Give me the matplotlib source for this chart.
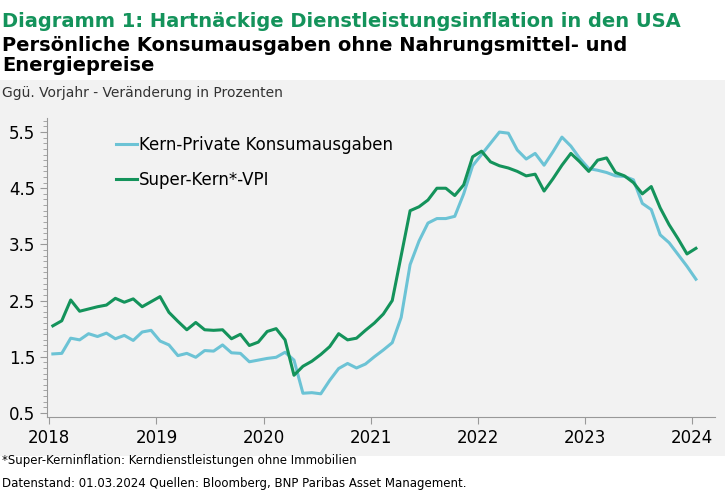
import matplotlib
matplotlib.use("Agg")
import matplotlib.pyplot as plt
import numpy as np
from matplotlib.patches import Rectangle
from matplotlib.ticker import MultipleLocator

pce = [1.55,1.56,1.83,1.80,1.91,1.86,1.92,1.82,1.88,1.79,1.94,1.97,
       1.78,1.71,1.52,1.56,1.49,1.61,1.60,1.71,1.57,1.56,1.41,1.44,
       1.47,1.49,1.58,1.44,0.85,0.86,0.84,1.08,1.29,1.38,1.30,1.37,
       1.50,1.62,1.75,2.20,3.14,3.56,3.88,3.96,3.96,4.00,4.40,4.90,
       5.10,5.30,5.50,5.48,5.18,5.02,5.12,4.91,5.15,5.41,5.25,5.03,
       4.85,4.82,4.78,4.72,4.71,4.65,4.23,4.12,3.67,3.53,3.32,3.11,
       2.88]
supercore = [2.05,2.14,2.51,2.31,2.35,2.39,2.42,2.54,2.47,2.53,2.39,2.48,
             2.57,2.29,2.13,1.98,2.11,1.98,1.97,1.98,1.82,1.90,1.70,1.76,
             1.95,2.00,1.80,1.17,1.33,1.42,1.54,1.68,1.91,1.80,1.83,1.97,
             2.10,2.26,2.50,3.30,4.10,4.17,4.29,4.50,4.50,4.37,4.56,5.06,
             5.16,4.97,4.90,4.86,4.80,4.72,4.75,4.45,4.67,4.91,5.12,4.97,
             4.80,5.00,5.04,4.78,4.72,4.60,4.40,4.53,4.15,3.85,3.60,3.33,
             3.43]
years = [2018, 2019, 2020, 2021, 2022, 2023, 2024]
yticks = [0.5, 1.5, 2.5, 3.5, 4.5, 5.5]

x = 2018 + (np.arange(len(pce)) + 0.4) / 12

fig = plt.figure(figsize=(7.25, 4.98), dpi=100)
bg = Rectangle((0, 42/498), 1, (498-42-80)/498, transform=fig.transFigure,
               facecolor="#f2f2f2", edgecolor="none", zorder=-10)
fig.add_artist(bg)
ax = fig.add_axes([0.065, 0.163, 0.921, 0.60])
ax.set_zorder(5)
ax.set_facecolor("#f2f2f2")
ax.plot(x, pce, color="#6cc3d5", lw=2.2, label="Kern-Private Konsumausgaben")
ax.plot(x, supercore, color="#14935b", lw=2.2, label="Super-Kern*-VPI")
ax.set_xlim(2017.98, 2024.21)
ax.set_ylim(0.43, 5.75)
ax.set_xticks(years)
ax.set_xticklabels([str(y) for y in years], fontsize=12)
ax.set_yticks(yticks)
ax.set_yticklabels([f"{v:.1f}" for v in yticks], fontsize=12)
ax.yaxis.set_minor_locator(MultipleLocator(0.1))
ax.tick_params(axis="y", which="minor", length=3, color="#999999")
ax.tick_params(axis="y", which="major", length=5, color="#999999")
ax.tick_params(axis="x", length=5, color="#999999")
for s in ["top", "right"]:
    ax.spines[s].set_visible(False)
for s in ["left", "bottom"]:
    ax.spines[s].set_color("#999999")
leg = ax.legend(loc="upper left", bbox_to_anchor=(0.08, 0.99), frameon=False,
                fontsize=12, handlelength=1.3, handletextpad=0.1, labelspacing=1.0)

fig.text(0.003, 0.975, "Diagramm 1: Hartnäckige Dienstleistungsinflation in den USA",
         color="#14935b", fontsize=14, fontweight="bold", va="top")
fig.text(0.003, 0.928, "Persönliche Konsumausgaben ohne Nahrungsmittel- und\nEnergiepreise",
         color="black", fontsize=14, fontweight="bold", va="top", linespacing=1.1)
fig.text(0.003, 0.828, "Ggü. Vorjahr - Veränderung in Prozenten", fontsize=10, va="top", color="#333333")
fig.text(0.003, 0.075, "*Super-Kerninflation: Kerndienstleistungen ohne Immobilien", fontsize=8.5, va="center")
fig.text(0.003, 0.03, "Datenstand: 01.03.2024 Quellen: Bloomberg, BNP Paribas Asset Management.",
         fontsize=8.5, va="center")
fig.savefig("out.png", dpi=100, facecolor="white")
